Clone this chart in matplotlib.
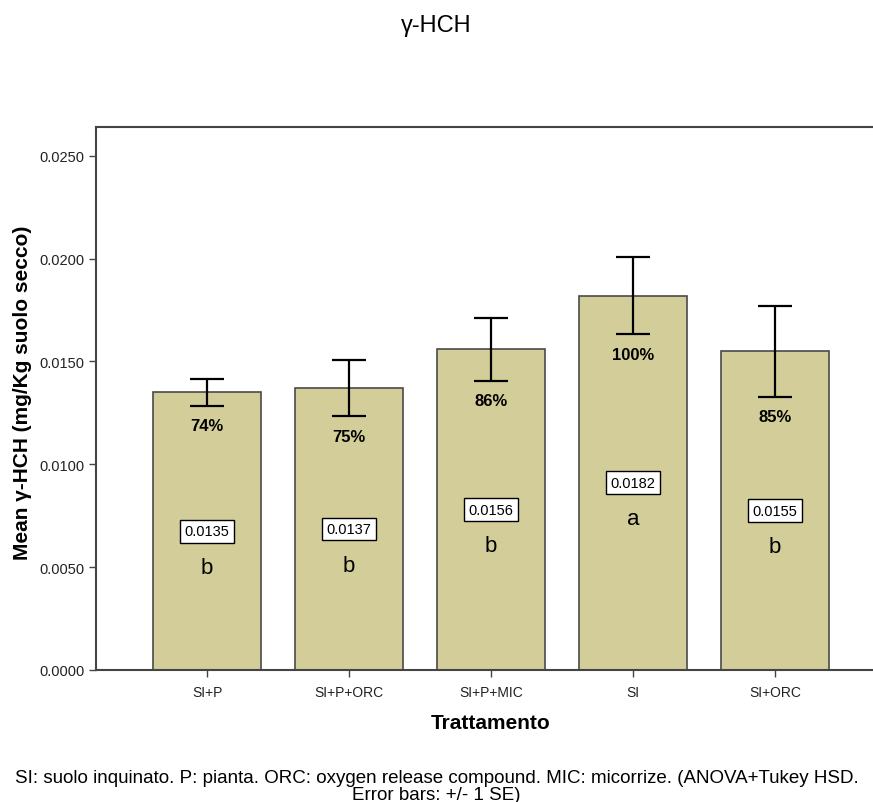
import matplotlib.pyplot as plt

# dati: medie, errore standard, percentuali e lettere Tukey
trattamenti = ['SI+P', 'SI+P+ORC', 'SI+P+MIC', 'SI', 'SI+ORC']
medie = [0.0135, 0.0137, 0.0156, 0.0182, 0.0155]
errori = [0.00066, 0.00137, 0.00153, 0.00188, 0.00221]
percentuali = ['74%', '75%', '86%', '100%', '85%']
lettere = ['b', 'b', 'b', 'a', 'b']
yticks = [0.0, 0.005, 0.010, 0.015, 0.020, 0.025]

colore_barre = '#D3CE99'
plt.rcParams['font.family'] = ['Liberation Sans', 'DejaVu Sans']

fig = plt.figure(figsize=(8.73, 8.03), dpi=100)
ax = fig.add_axes([0.110, 0.1644, 0.905, 0.6762])

x = range(len(trattamenti))
ax.bar(x, medie, width=0.76, color=colore_barre, edgecolor='#4a4a4a',
       linewidth=1.2, zorder=2)
ax.errorbar(x, medie, yerr=errori, fmt='none', ecolor='black',
            elinewidth=1.6, capsize=12, capthick=1.6, zorder=3)

for i, m in enumerate(medie):
    low = m - errori[i]
    ax.text(i, low - 0.0006, percentuali[i], ha='center', va='top',
            fontsize=12, fontweight='bold', zorder=4)
    ax.text(i, m / 2, f'{m:.4f}', ha='center', va='center', fontsize=10.5,
            zorder=4, bbox=dict(boxstyle='square,pad=0.3', fc='white',
                                ec='black', lw=1))
    ax.text(i, m / 2 - 0.00175, lettere[i], ha='center', va='center',
            fontsize=16, zorder=4)

ax.set_xlim(-0.782, 4.782)
ax.set_ylim(0, 0.0264)
ax.set_xticks(list(x))
ax.set_xticklabels(trattamenti, fontsize=10)
ax.set_yticks(yticks)
ax.set_yticklabels([f'{v:.4f}' for v in yticks], fontsize=10.5)

for lato in ['top', 'left', 'bottom']:
    ax.spines[lato].set_color('#444444')
    ax.spines[lato].set_linewidth(1.5)
ax.spines['right'].set_visible(False)
ax.tick_params(axis='both', colors='#444444', length=5, width=1,
               labelcolor='#222222')
ax.tick_params(axis='x', pad=6)

ax.set_ylabel('Mean γ-HCH (mg/Kg suolo secco)', fontsize=15,
              fontweight='bold')
ax.yaxis.set_label_coords(-0.081, 0.513)
ax.set_xlabel('Trattamento', fontsize=15, fontweight='bold', labelpad=10)

fig.text(0.4995, 0.968, 'γ-HCH', ha='center', va='center', fontsize=17)
fig.text(0.5, 0.0195,
         'SI: suolo inquinato. P: pianta. ORC: oxygen release compound. '
         'MIC: micorrize. (ANOVA+Tukey HSD.\nError bars: +/- 1 SE)',
         ha='center', va='center', fontsize=13.5, linespacing=1.0)

fig.savefig('out.png', dpi=100)
